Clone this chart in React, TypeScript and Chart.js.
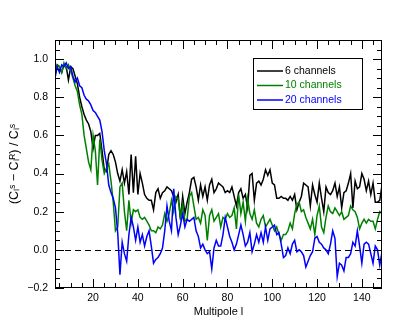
import React, { useEffect, useRef } from 'react';
import { Chart, registerables } from 'chart.js';

Chart.register(...registerables);

// Multipole l = 3 .. 149
const multipoles = Array.from({ length: 147 }, (_, i) => i + 3);

const black6 = [
  0.92, 0.97, 0.96, 0.93, 0.97, 0.96, 0.89, 0.96, 0.95, 0.91,
  0.87, 0.80, 0.75, 0.71, 0.68, 0.66, 0.62, 0.53, 0.60, 0.60,
  0.61, 0.52, 0.42, 0.41, 0.50, 0.52, 0.50, 0.46, 0.40, 0.36,
  0.42, 0.35, 0.41, 0.29, 0.50, 0.30, 0.49, 0.29, 0.40, 0.35,
  0.29, 0.27, 0.26, 0.26, 0.21, 0.30, 0.32, 0.27, 0.30, 0.31,
  0.33, 0.32, 0.31, 0.28, 0.25, 0.29, 0.16, 0.28, 0.19, 0.25,
  0.30, 0.37, 0.38, 0.33, 0.26, 0.34, 0.28, 0.33, 0.26, 0.34,
  0.37, 0.30, 0.32, 0.35, 0.34, 0.33, 0.30, 0.31, 0.30, 0.33,
  0.28, 0.23, 0.30, 0.32, 0.27, 0.29, 0.22, 0.39, 0.40, 0.26,
  0.35, 0.36, 0.34, 0.37, 0.42, 0.39, 0.42, 0.35, 0.34, 0.27,
  0.27, 0.28, 0.27, 0.27, 0.26, 0.28, 0.26, 0.29, 0.21, 0.25,
  0.28, 0.35, 0.34, 0.33, 0.23, 0.34, 0.29, 0.25, 0.35, 0.27,
  0.20, 0.33, 0.30, 0.29, 0.31, 0.35, 0.28, 0.33, 0.22, 0.30,
  0.31, 0.35, 0.40, 0.22, 0.36, 0.32, 0.33, 0.40, 0.37, 0.31,
  0.36, 0.29, 0.35, 0.25, 0.25, 0.26, 0.34,
];

const green10 = [
  0.92, 0.97, 0.96, 0.93, 0.98, 0.95, 0.97, 0.94, 0.90, 0.86,
  0.83, 0.76, 0.71, 0.60, 0.53, 0.46, 0.42, 0.60, 0.52, 0.34,
  0.58, 0.47, 0.40, 0.43, 0.45, 0.36, 0.25, 0.10, 0.12, 0.33,
  0.35, 0.20, 0.10, 0.26, 0.14, 0.21, 0.20, 0.21, 0.17, 0.16,
  0.17, 0.15, 0.13, 0.10, 0.10, 0.09, 0.12, 0.11, 0.13, 0.19,
  0.15, 0.19, 0.26, 0.20, 0.28, 0.27, 0.17, 0.24, 0.15, 0.16,
  0.28, 0.30, 0.23, 0.16, 0.17, 0.14, 0.21, 0.18, 0.05, 0.18,
  0.21, 0.15, 0.17, 0.19, 0.12, 0.17, 0.16, 0.19, 0.17, 0.18,
  0.22, 0.11, 0.29, 0.19, 0.25, 0.15, 0.27, 0.19, 0.16, 0.21,
  0.14, 0.12, 0.16, 0.18, 0.12, 0.14, 0.16, 0.13, 0.10, 0.12,
  0.08, 0.05, 0.08, 0.08, 0.10, 0.14, 0.11, 0.19, 0.24, 0.25,
  0.20, 0.21, 0.17, 0.14, 0.11, 0.16, 0.08, 0.18, 0.23, 0.12,
  0.09, 0.17, 0.23, 0.20, 0.19, 0.22, 0.20, 0.18, 0.20, 0.16,
  0.17, 0.18, 0.23, 0.21, 0.20, 0.17, 0.11, 0.14, 0.16, 0.14,
  0.16, 0.15, 0.15, 0.11, 0.16, 0.20, 0.19,
];

const blue20 = [
  0.90, 0.96, 0.93, 0.97, 0.96, 0.98, 0.95, 0.96, 0.91, 0.88,
  0.90, 0.86, 0.85, 0.81, 0.79, 0.78, 0.76, 0.73, 0.72, 0.70,
  0.68, 0.62, 0.52, 0.45, 0.34, 0.30, 0.27, 0.22, 0.09, -0.13,
  0.04, -0.02, -0.06, 0.08, 0.17, 0.12, 0.05, 0.12, 0.04, 0.08,
  0.02, 0.07, 0.10, 0.02, -0.07, -0.05, -0.04, -0.02, 0.01, 0.10,
  0.23, 0.15, 0.10, 0.32, 0.17, 0.08, 0.13, 0.19, 0.12, 0.16,
  0.15, 0.16, 0.17, 0.10, 0.07, 0.01, 0.03, 0.00, -0.02, -0.01,
  -0.10, 0.01, 0.05, 0.02, 0.02, 0.08, 0.17, 0.12, 0.07, 0.04,
  0.00, 0.03, 0.08, 0.13, 0.08, 0.02, 0.04, 0.09, -0.01, 0.03,
  0.08, 0.04, 0.09, 0.04, 0.12, 0.05, 0.11, 0.12, 0.13, 0.08,
  0.09, 0.03, -0.04, -0.03, 0.01, -0.02, 0.03, 0.05, -0.01, 0.00,
  -0.01, -0.03, -0.09, -0.06, -0.03, -0.01, 0.06, 0.07, 0.04, 0.03,
  0.01, 0.00, -0.02, 0.03, 0.10, 0.06, -0.14, -0.07, -0.08, -0.11,
  -0.04, -0.04, -0.02, 0.04, 0.02, 0.10, 0.02, -0.07, 0.03, 0.04,
  0.03, -0.02, -0.07, 0.02, 0.00, -0.08, -0.01,
];

const xTickValues = [20, 40, 60, 80, 100, 120, 140];
const yTickValues = [-0.2, 0.0, 0.2, 0.4, 0.6, 0.8, 1.0];
const seriesLabels = ['6 channels', '10 channels', '20 channels'];
const seriesColors = ['#000000', '#008000', '#0000ff'];
const xLabel = 'Multipole l';
const yLabel = '(Cₗˢ − Cₗᴿ) / Cₗˢ';

const FONT = '"Liberation Sans", Arial, Helvetica, sans-serif';

const framePlugin = {
  id: 'idlFrame',
  beforeDatasetsDraw(chart: any) {
    const { ctx, chartArea, scales } = chart;
    const py = Math.round(scales.y.getPixelForValue(0)) + 0.5;
    ctx.save();
    ctx.strokeStyle = '#000';
    ctx.lineWidth = 1;
    ctx.setLineDash([6, 4]);
    ctx.beginPath();
    ctx.moveTo(chartArea.left, py);
    ctx.lineTo(chartArea.right, py);
    ctx.stroke();
    ctx.restore();
  },
  afterDraw(chart: any) {
    const { ctx, chartArea, scales } = chart;
    const { left, right, top, bottom } = chartArea;
    const xs = scales.x;
    const ys = scales.y;
    ctx.save();
    ctx.strokeStyle = '#000';
    ctx.lineWidth = 1;
    ctx.setLineDash([]);
    // frame
    ctx.strokeRect(left + 0.5, top + 0.5, right - left - 1, bottom - top - 1);
    const major = 9;
    const minor = 5;
    ctx.beginPath();
    // x ticks every 5, major every 20
    for (let k = 1; k <= 30; k++) {
      const v = k * 5;
      if (v < xs.min || v > xs.max) continue;
      const px = Math.round(xs.getPixelForValue(v)) + 0.5;
      const len = v % 20 === 0 ? major : minor;
      ctx.moveTo(px, bottom);
      ctx.lineTo(px, bottom - len);
      ctx.moveTo(px, top);
      ctx.lineTo(px, top + len);
    }
    // y ticks every 0.05, major every 0.2
    for (let k = -4; k <= 22; k++) {
      const v = k * 0.05;
      if (v < ys.min - 1e-9 || v > ys.max + 1e-9) continue;
      const py = Math.round(ys.getPixelForValue(v)) + 0.5;
      const len = (k + 4) % 4 === 0 ? major : minor;
      ctx.moveTo(left, py);
      ctx.lineTo(left + len, py);
      ctx.moveTo(right, py);
      ctx.lineTo(right - len, py);
    }
    ctx.stroke();

    // legend box
    const bx = right - 129;
    const by = top + 18;
    const bw = 109;
    const bh = 51;
    ctx.fillStyle = '#fff';
    ctx.fillRect(bx, by, bw, bh);
    ctx.strokeRect(bx + 0.5, by + 0.5, bw, bh);
    ctx.font = `10.5px ${FONT}`;
    ctx.textBaseline = 'middle';
    ctx.textAlign = 'left';
    seriesLabels.forEach((lab, i) => {
      const yy = by + 13 + i * 14.5;
      ctx.strokeStyle = seriesColors[i];
      ctx.lineWidth = 1.5;
      ctx.beginPath();
      ctx.moveTo(bx + 4, yy);
      ctx.lineTo(bx + 30, yy);
      ctx.stroke();
      ctx.fillStyle = seriesColors[i];
      ctx.fillText(lab, bx + 32, yy);
    });
    ctx.restore();
  },
};

export default function App() {
  const ref = useRef<HTMLCanvasElement | null>(null);
  useEffect(() => {
    document.body.style.margin = '0';
    const canvas = ref.current;
    if (!canvas) return;
    const series = [blue20, green10, black6];
    const names = [seriesLabels[2], seriesLabels[1], seriesLabels[0]];
    const cols = [seriesColors[2], seriesColors[1], seriesColors[0]];
    const chart = new Chart(canvas, {
      type: 'line',
      data: {
        datasets: series.map((s, i) => ({
          label: names[i],
          data: multipoles.map((l, j) => ({ x: l, y: s[j] })),
          borderColor: cols[i],
          backgroundColor: cols[i],
          borderWidth: 1.5,
          pointRadius: 0,
          tension: 0,
          fill: false,
          order: i,
        })),
      },
      options: {
        responsive: false,
        animation: false,
        devicePixelRatio: 1,
        layout: { padding: { top: 40, right: 33, left: 0, bottom: 0 } },
        plugins: { legend: { display: false }, tooltip: { enabled: false } },
        scales: {
          x: {
            type: 'linear',
            min: 3,
            max: 149,
            grid: { display: false, drawTicks: false },
            border: { display: false },
            afterBuildTicks: (s: any) => {
              s.ticks = xTickValues.map((v) => ({ value: v }));
            },
            afterFit: (s: any) => {
              s.height = 44;
            },
            ticks: {
              font: { family: FONT, size: 10.5 },
              color: '#000',
              padding: 4,
              maxRotation: 0,
              autoSkip: false,
            },
            title: {
              display: true,
              text: xLabel,
              color: '#000',
              font: { family: FONT, size: 11 },
              padding: { top: 0, bottom: 13 },
            },
          },
          y: {
            type: 'linear',
            min: -0.2,
            max: 1.1,
            grid: { display: false, drawTicks: false },
            border: { display: false },
            afterBuildTicks: (s: any) => {
              s.ticks = yTickValues.map((v) => ({ value: v }));
            },
            afterFit: (s: any) => {
              s.width = 55;
            },
            ticks: {
              font: { family: FONT, size: 10.5 },
              color: '#000',
              padding: 7,
              autoSkip: false,
              callback: (v: any) => Number(v).toFixed(1).replace('-', '−'),
            },
            title: {
              display: true,
              text: yLabel,
              color: '#000',
              font: { family: FONT, size: 12.5 },
              padding: { top: 7, bottom: 0 },
            },
          },
        },
      },
      plugins: [framePlugin],
    });
    return () => chart.destroy();
  }, []);
  return <canvas ref={ref} width={415} height={332} style={{ display: 'block' }} />;
}
